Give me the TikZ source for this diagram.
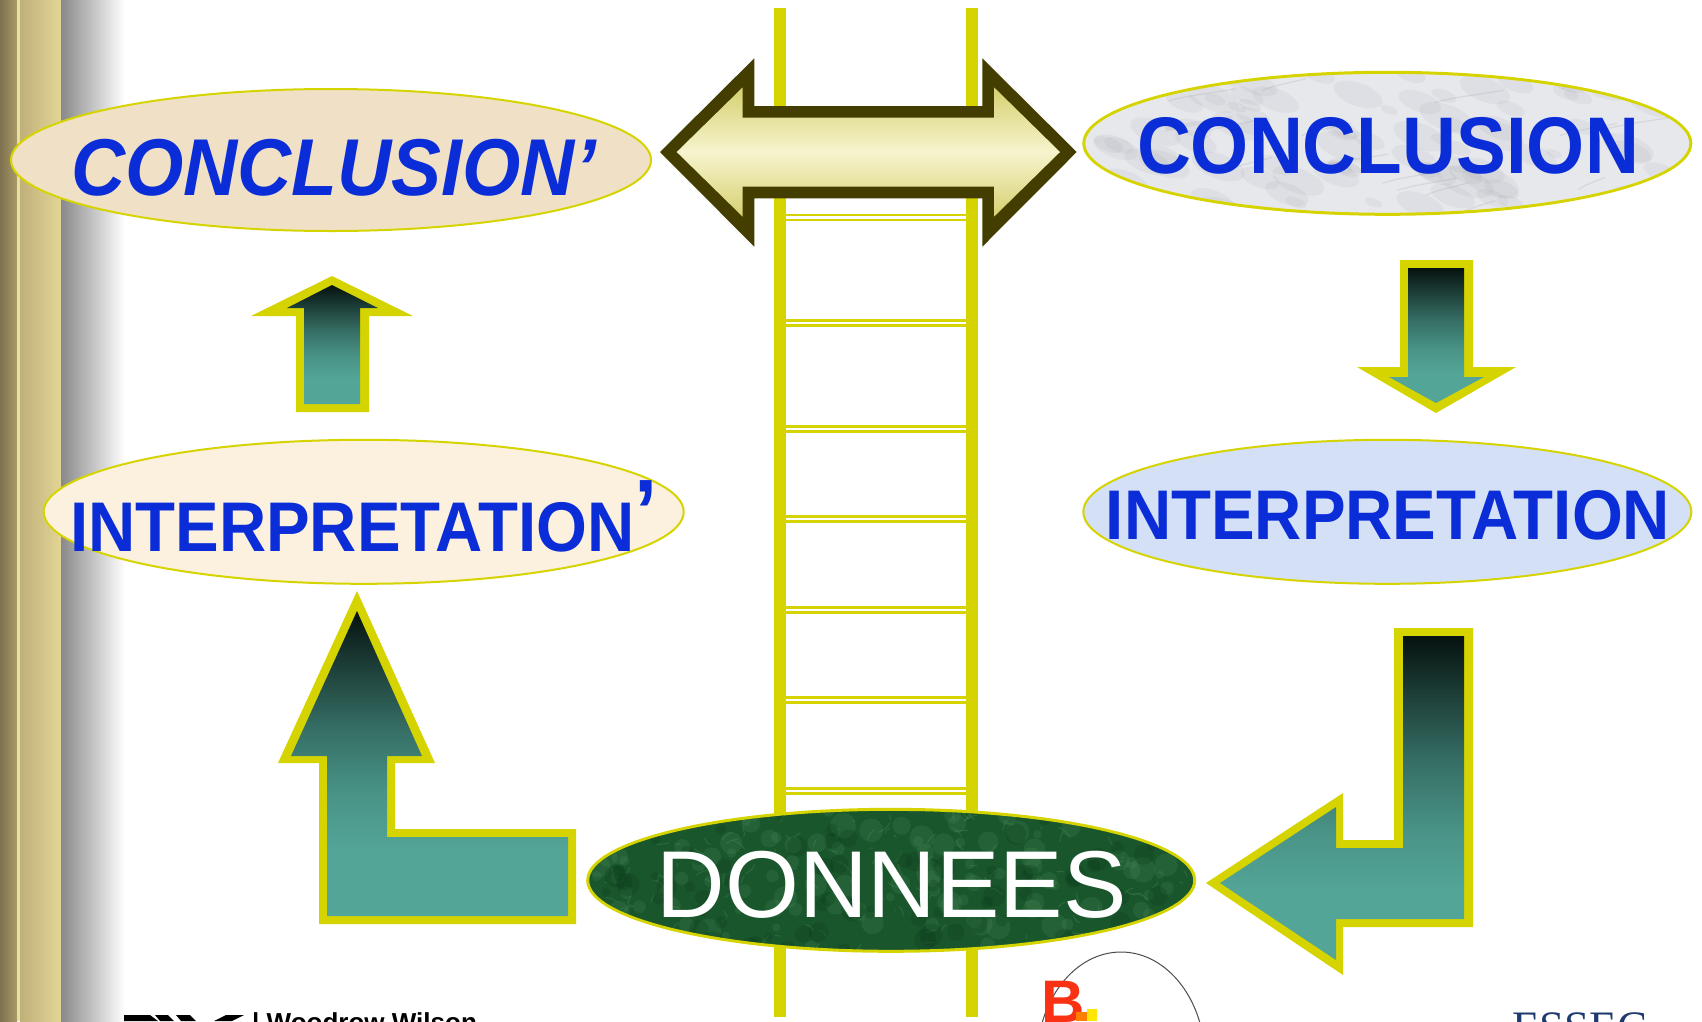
\documentclass[tikz,border=0pt]{standalone}
\usepackage{fontspec}
\setmainfont{Liberation Sans}
\newfontfamily\condsans{Liberation Sans}[FakeStretch=0.93]
\newfontfamily\serifface{Liberation Serif}
\usetikzlibrary{shapes.geometric}

\definecolor{rail}{RGB}{214,212,0}
\definecolor{labelblue}{RGB}{10,45,216}
\definecolor{tealtop}{RGB}{6,18,15}
\definecolor{tealbot}{RGB}{82,165,151}
\definecolor{olive}{RGB}{67,61,0}
\definecolor{creamA}{RGB}{214,208,112}
\definecolor{creamB}{RGB}{246,244,206}
\definecolor{beige}{RGB}{240,225,198}
\definecolor{cream}{RGB}{252,240,222}
\definecolor{marble}{RGB}{230,232,236}
\definecolor{marbleVein}{RGB}{140,142,148}
\definecolor{lavender}{RGB}{212,224,246}
\definecolor{moss}{RGB}{26,86,44}
\definecolor{mossLight}{RGB}{100,165,115}
\definecolor{mossDark}{RGB}{8,58,26}
\definecolor{barDarkA}{RGB}{126,114,80}
\definecolor{barDarkB}{RGB}{168,154,104}
\definecolor{barLight}{RGB}{232,222,160}
\definecolor{barTanA}{RGB}{192,176,122}
\definecolor{barTanB}{RGB}{226,213,150}
\definecolor{essecblue}{RGB}{31,58,110}
\definecolor{logored}{RGB}{250,50,20}

% teal body of the block arrows: dark at the top, settling into teal lower down
% (the path's height spans 25bp..75bp of the shading)
\pgfdeclareverticalshading{tealfall}{100bp}{%
  color(0bp)=(tealbot); color(25bp)=(tealbot); color(36bp)=(tealbot);
  color(45bp)=(tealbot!88!tealtop); color(56bp)=(tealbot!62!tealtop);
  color(66bp)=(tealbot!30!tealtop); color(75bp)=(tealtop); color(100bp)=(tealtop)}

\tikzset{
  oval/.style={ellipse, draw=rail, line width=2pt, inner sep=0pt},
  bluelabel/.style={inner sep=0pt, text=labelblue},
  arrowrim/.style={fill=rail},
  arrowbody/.style={shading=tealfall},
}

\begin{document}
\begin{tikzpicture}[x=1pt, y=-1pt]
\clip (0,0) rectangle (1702,1021);
\fill[white] (0,0) rectangle (1702,1021);

% side bar
\shade[left color=barDarkA, right color=barDarkB] (0,0) rectangle (17,1021);
\fill[barLight] (17,0) rectangle (20,1021);
\shade[left color=barTanA, right color=barTanB] (20,0) rectangle (61,1021);
\shade[left color={rgb,255:red,137;green,137;blue,137}, right color=white] (61,0) rectangle (125,1021);

% ladder
\foreach \x in {780.2,972.3} \draw[rail, line width=12.3pt] (\x,8) -- (\x,1017);
\foreach \y in {217.5,323,429,519,610,700,791}
  \foreach \d in {-2.6,2.6}
    \draw[rail, line width=2.6pt] (786,\y+\d) -- (966,\y+\d);

% ovals
\node[oval, fill=beige, minimum width=640pt, minimum height=142pt] (cprime) at (331,160) {};
\node[oval, fill=cream, minimum width=640pt, minimum height=144pt] (iprime) at (363.7,511.8) {};
\node[oval, fill=marble, minimum width=608pt, minimum height=143pt] (concl) at (1387.3,143.3) {};
\node[oval, fill=lavender, minimum width=608pt, minimum height=144pt] (interp) at (1387.3,511.8) {};
\node[oval, fill=moss, minimum width=608pt, minimum height=143pt] (donnees) at (891.2,880.3) {};

% cloudy grey marble
\begin{scope}
  \clip (concl.center) ellipse [x radius=302, y radius=70];
  \pgfmathsetseed{5}
  \foreach \i in {1,...,90}{
    \pgfmathsetmacro{\px}{1085+600*rnd}
    \pgfmathsetmacro{\py}{72+142*rnd}
    \pgfmathsetmacro{\rx}{8+22*rnd}
    \fill[marbleVein, opacity=0.09, rotate around={-20:(\px,\py)}] (\px,\py) ellipse [x radius=\rx, y radius={0.45*\rx}];
  }
  \foreach \i in {1,...,18}{
    \pgfmathsetmacro{\px}{1085+600*rnd}
    \pgfmathsetmacro{\py}{72+142*rnd}
    \pgfmathsetmacro{\len}{25+45*rnd}
    \draw[marbleVein, opacity=0.18, line width=1.2pt, line cap=round] (\px,\py) .. controls +(\len/3,-6) and +(-\len/3,4) .. ++(\len,-12);
  }
\end{scope}
\draw[rail, line width=2pt] (concl.center) ellipse [x radius=303, y radius=70.5];

% mottled green of the data oval
\begin{scope}
  \clip (donnees.center) ellipse [x radius=302, y radius=70];
  \pgfmathsetseed{11}
  \foreach \i in {1,...,110}{
    \pgfmathsetmacro{\px}{590+604*rnd}
    \pgfmathsetmacro{\py}{810+142*rnd}
    \fill[mossLight, opacity=0.14] (\px,\py) circle (4+9*rnd);
  }
  \foreach \i in {1,...,160}{
    \pgfmathsetmacro{\px}{590+604*rnd}
    \pgfmathsetmacro{\py}{810+142*rnd}
    \pgfmathsetmacro{\dx}{-12+24*rnd}
    \pgfmathsetmacro{\dy}{-10+20*rnd}
    \draw[mossLight, opacity=0.22, line width=1.1pt, line cap=round] (\px,\py) .. controls +(\dx/2,\dy) and +(0,0) .. ++(\dx,\dy);
  }
  \foreach \i in {1,...,80}{
    \pgfmathsetmacro{\px}{590+604*rnd}
    \pgfmathsetmacro{\py}{810+142*rnd}
    \fill[mossDark, opacity=0.25] (\px,\py) circle (4+8*rnd);
  }
\end{scope}
\draw[rail, line width=2pt] (donnees.center) ellipse [x radius=303, y radius=70.5];

% double arrow between the two conclusions
\fill[olive] (660,152) -- (754.3,58.3) -- (754.3,106) -- (982.3,106) -- (982.3,58.3)
  -- (1076.7,152) -- (982.3,246.7) -- (982.3,198.3) -- (754.3,198.3) -- (754.3,246.7) -- cycle;
\shade[top color=creamA, bottom color=creamA, middle color=creamB]
  (676.7,152) -- (742.7,87.3) -- (742.7,117.7) -- (994,117.7) -- (994,87.3)
  -- (1060,152) -- (994,216.7) -- (994,186.7) -- (742.7,186.7) -- (742.7,216.7) -- cycle;

% small up arrow
\fill[arrowrim] (332,276) -- (413,316) -- (369,316) -- (369,412) -- (296,412) -- (296,316) -- (251,316) -- cycle;
\shade[arrowbody] (332,285) -- (378,308) -- (360,308) -- (360,404) -- (304,404) -- (304,308) -- (287,308) -- cycle;

% small down arrow
\fill[arrowrim] (1400,260) -- (1473,260) -- (1473,367) -- (1516,367) -- (1436,413) -- (1357,367) -- (1400,367) -- cycle;
\shade[arrowbody] (1408,268) -- (1464,268) -- (1464,377) -- (1484,377) -- (1436,403) -- (1389,377) -- (1408,377) -- cycle;

% bent arrow up from the data
\fill[arrowrim] (357,591) -- (435,763) -- (395,763) -- (395,829) -- (576,829) -- (576,924)
  -- (319,924) -- (319,763) -- (278,763) -- cycle;
\shade[arrowbody] (357,611) -- (422,756) -- (387,756) -- (387,837) -- (568,837) -- (568,916)
  -- (327,916) -- (327,756) -- (291,756) -- cycle;

% bent arrow down to the data
\fill[arrowrim] (1394,628) -- (1473,628) -- (1473,927) -- (1343,927) -- (1343,975)
  -- (1206,883) -- (1343,793) -- (1343,840) -- (1394,840) -- cycle;
\shade[arrowbody] (1403,636) -- (1464,636) -- (1464,919) -- (1336,919) -- (1336,960)
  -- (1220,883) -- (1336,807) -- (1336,848) -- (1403,848) -- cycle;

% labels
\node[bluelabel, anchor=base west] (cprimetxt) at (71,195.4)
  {\condsans\bfseries\itshape\fontsize{80.6}{80.6}\selectfont CONCLUSION’};
\node[bluelabel, anchor=base west] (iprimetxt) at (70,551.4)
  {\condsans\bfseries\fontsize{70.3}{70.3}\selectfont INTERPRETATION\raisebox{9pt}{\fontsize{90}{90}\selectfont ’}};
\node[bluelabel, anchor=base] (concltxt) at (1388,173.7)
  {\condsans\bfseries\fontsize{80.3}{80.3}\selectfont CONCLUSION};
\node[bluelabel, anchor=base] (interptxt) at (1388,539.5)
  {\condsans\bfseries\fontsize{70.3}{70.3}\selectfont INTERPRETATION};
\node[inner sep=0pt, text=white, anchor=base] (donneestxt) at (891.7,917.3)
  {\fontsize{95}{95}\selectfont DONNEES};

% footer logos
\fill[black] (124,1015) -- (150,1015) -- (158,1021) -- (124,1021) -- cycle;
\fill[black] (155,1015) -- (168,1015) -- (174,1021) -- (160,1021) -- cycle;
\fill[black] (176,1015) -- (190,1015) -- (196,1021) -- (181,1021) -- cycle;
\fill[black] (214,1021) -- (226,1015) -- (244,1015) -- (232,1021) -- cycle;
\node[inner sep=0pt, anchor=base west] (wilson) at (252,1031.6)
  {\bfseries\fontsize{26}{26}\selectfont | Woodrow Wilson};
\draw[gray!60!black, line width=1pt] (1121,1060) ellipse [x radius=84, y radius=108];
\node[inner sep=0pt, anchor=north west, text=logored] (blogo) at (1041,981)
  {\bfseries\fontsize{60}{60}\selectfont B};
\fill[orange] (1076,1012) rectangle (1087,1021);
\fill[yellow!90!orange] (1087,1009) rectangle (1097,1021);
\node[inner sep=0pt, anchor=base west, text=essecblue] (essec) at (1512,1042)
  {\serifface\fontsize{45}{45}\selectfont ESSEC};
\end{tikzpicture}
\end{document}
